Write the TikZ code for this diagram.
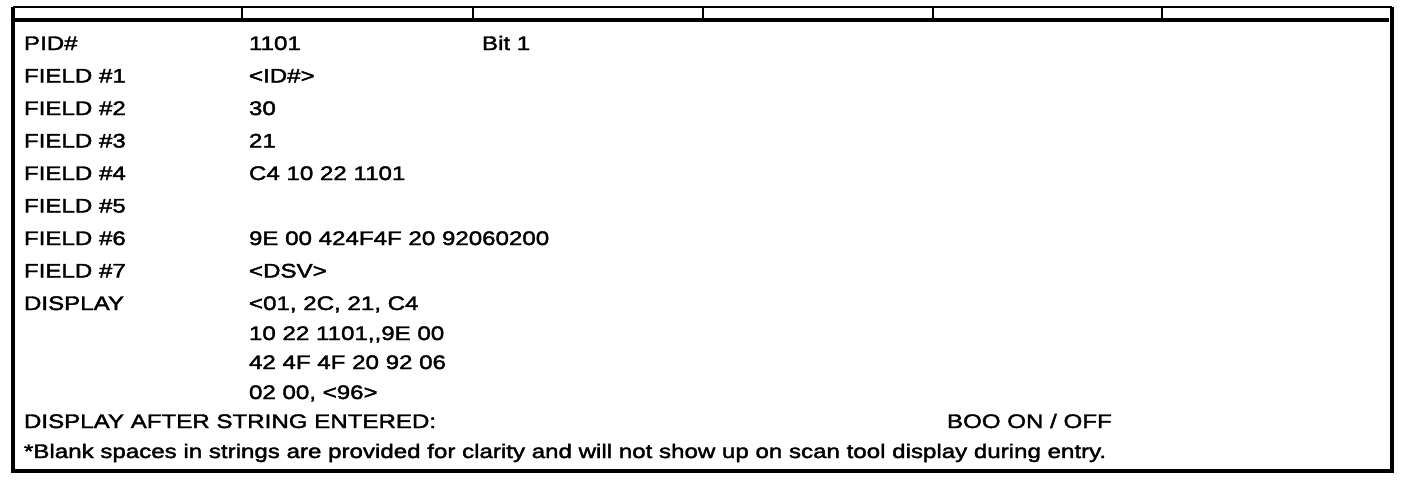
\documentclass[tikz,border=0pt]{standalone}
\usepackage{fontspec}
\setmainfont{Liberation Sans}[FakeStretch=1.23,FakeBold=2]
\begin{document}
\begin{tikzpicture}[x=0.75pt,y=-0.75pt,
  txt/.style={anchor=base west,inner sep=0pt,outer sep=0pt,font=\fontsize{14.7}{17}\selectfont},
  thinrule/.style={line width=1.5pt},
  thickrule/.style={line width=2.3pt}]
\useasboundingbox[fill=white] (0,0) rectangle (1408,482);
% frame
\coordinate (tl) at (13,7);
\coordinate (tr) at (1392,7);
\coordinate (bl) at (13,471);
\coordinate (br) at (1392,471);
\coordinate (ml) at (13,20);
\coordinate (mr) at (1389,20);
\draw[thinrule] (tl) -- (tr);
\draw[thickrule] (ml) -- (mr);
\draw[thickrule] (tl) -- (bl) -- (br) -- (tr);
\foreach \x in {242,473,703,933,1162}{
  \draw[line width=1.8pt] (\x,7) -- (\x,20);
}
% column 1
\node[txt] (k0) at (24,50) {PID\#};
\node[txt] (k1) at (24,82.5) {FIELD \#1};
\node[txt] (k2) at (24,115) {FIELD \#2};
\node[txt] (k3) at (24,147.5) {FIELD \#3};
\node[txt] (k4) at (24,180) {FIELD \#4};
\node[txt] (k5) at (24,212.5) {FIELD \#5};
\node[txt] (k6) at (24,245) {FIELD \#6};
\node[txt] (k7) at (24,277.5) {FIELD \#7};
\node[txt] (k8) at (24,310) {DISPLAY};
% column 2
\node[txt] (v0) at (249,50) {1101};
\node[txt] (b0) at (482,50) {Bit 1};
\node[txt] (v1) at (249,82.5) {<ID\#>};
\node[txt] (v2) at (249,115) {30};
\node[txt] (v3) at (249,147.5) {21};
\node[txt] (v4) at (249,180) {C4 10 22 1101};
\node[txt] (v6) at (249,245) {9E 00 424F4F 20 92060200};
\node[txt] (v7) at (249,277.5) {<DSV>};
\node[txt] (v8a) at (249,310) {<01, 2C, 21, C4};
\node[txt] (v8b) at (249,340) {10 22 1101,{},9E 00};
\node[txt] (v8c) at (249,369) {42 4F 4F 20 92 06};
\node[txt] (v8d) at (249,399) {02 00, <96>};
% bottom rows
\node[txt] (da) at (24,428) {DISPLAY AFTER STRING ENTERED:};
\node[txt] (boo) at (947,428) {BOO ON / OFF};
\node[txt] (note) at (24,458) {*Blank spaces in strings are provided for clarity and will not show up on scan tool display during entry.};
\end{tikzpicture}
\end{document}
